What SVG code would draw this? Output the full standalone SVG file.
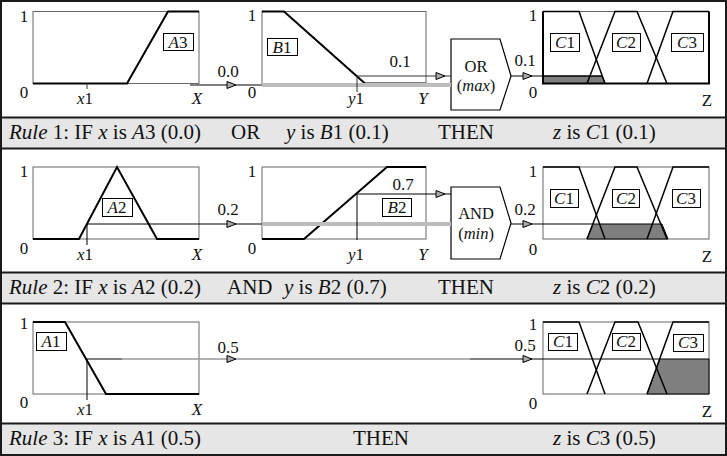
<svg xmlns="http://www.w3.org/2000/svg" xmlns:xlink="http://www.w3.org/1999/xlink" width="727" height="456" viewBox="0 0 727 456">
<style>
text{font-family:"Liberation Serif","Times New Roman",serif;fill:#111}
.t{font-size:17px}
.s{font-size:17px}
.o{font-size:16.5px}
.cap{font-size:21px}
.i{font-style:italic}
.m{text-anchor:middle}
.bar{fill:#e6e6e6}
.sep{stroke:#1a1a1a;stroke-width:2}
.ax{fill:#fff;stroke:#666;stroke-width:1}
.axk{fill:none;stroke:#000;stroke-width:2}
.mf{fill:none;stroke:#000;stroke-width:2}
.leg{fill:none;stroke:#000;stroke-width:1.5}
.ln{stroke:#000;stroke-width:1;fill:none}
.tk{stroke:#333;stroke-width:1;fill:none}
.gb{stroke:#bdbdbd;stroke-width:4;fill:none}
.sh{fill:#7f7f7f;stroke:#000;stroke-width:1}
.lb{fill:#fff;stroke:#000;stroke-width:1}
.ah{fill:#aaa;stroke:#000;stroke-width:1}
.op{fill:#fff;stroke:#000;stroke-width:1.2}
</style>
<defs>
<path id="ah" class="ah" d="M-9,-3.5 L0,0 L-9,3.5 Z"/>
</defs>
<rect x="0" y="0" width="727" height="456" fill="#fff"/>

<g id="captions">
<rect class="bar" x="1" y="118" width="725" height="30"/>
<rect class="bar" x="1" y="273" width="725" height="30"/>
<rect class="bar" x="1" y="424" width="725" height="31"/>
<line class="sep" x1="1" y1="117.5" x2="726" y2="117.5"/>
<line class="sep" x1="1" y1="148.5" x2="726" y2="148.5"/>
<line class="sep" x1="1" y1="272.5" x2="726" y2="272.5"/>
<line class="sep" x1="1" y1="303.5" x2="726" y2="303.5"/>
<line class="sep" x1="1" y1="423.5" x2="726" y2="423.5"/>
</g>

<g id="caption1">
<text class="cap" x="9" y="139"><tspan class="i">Rule</tspan> 1: IF <tspan class="i">x</tspan> is <tspan class="i">A</tspan>3 (0.0)</text>
<text class="cap" x="231" y="139">OR</text>
<text class="cap" x="286" y="139"><tspan class="i">y</tspan> is <tspan class="i">B</tspan>1 (0.1)</text>
<text class="cap" x="438" y="139">THEN</text>
<text class="cap" x="553" y="139"><tspan class="i">z</tspan> is <tspan class="i">C</tspan>1 (0.1)</text>
</g>
<g id="caption2">
<text class="cap" x="9" y="294"><tspan class="i">Rule</tspan> 2: IF <tspan class="i">x</tspan> is <tspan class="i">A</tspan>2 (0.2)</text>
<text class="cap" x="227" y="294">AND</text>
<text class="cap" x="284" y="294"><tspan class="i">y</tspan> is <tspan class="i">B</tspan>2 (0.7)</text>
<text class="cap" x="438" y="294">THEN</text>
<text class="cap" x="553" y="294"><tspan class="i">z</tspan> is <tspan class="i">C</tspan>2 (0.2)</text>
</g>
<g id="caption3">
<text class="cap" x="9" y="445"><tspan class="i">Rule</tspan> 3: IF <tspan class="i">x</tspan> is <tspan class="i">A</tspan>1 (0.5)</text>
<text class="cap" x="353" y="445">THEN</text>
<text class="cap" x="553" y="445"><tspan class="i">z</tspan> is <tspan class="i">C</tspan>3 (0.5)</text>
</g>

<g id="r1-A3">
<rect class="ax" x="33" y="11.5" width="166" height="72"/>
<polyline class="mf" points="33,83.5 127,83.5 168,11.5 199,11.5"/>
<line class="tk" x1="87" y1="83.5" x2="87" y2="89"/>
<rect class="lb" x="163.5" y="33.5" width="30" height="17"/>
<text class="t m" x="178" y="48"><tspan class="i">A</tspan>3</text>
<text class="t m" x="24" y="22">1</text>
<text class="t m" x="24" y="98">0</text>
<text class="t m" x="85" y="104"><tspan class="i">x</tspan>1</text>
<text class="t m i" x="197" y="104">X</text>
</g>
<g id="r1-B1">
<rect class="ax" x="262" y="11.5" width="164" height="72"/>
<polyline class="mf" points="262,11.5 284,11.5 365,83.5 426,83.5"/>
<rect class="lb" x="267.5" y="38.5" width="30" height="17"/>
<text class="t m" x="282" y="53"><tspan class="i">B</tspan>1</text>
<text class="t m" x="252" y="21">1</text>
<text class="t m" x="252" y="98">0</text>
<text class="t m" x="356" y="104"><tspan class="i">y</tspan>1</text>
<text class="t m i" x="423" y="104">Y</text>
</g>
<g id="r1-OR">
<polygon class="op" points="451,39 500,39 511,76 500,110 451,110"/>
<text class="o m" x="476" y="72">OR</text>
<text class="o m" x="476" y="91">(<tspan class="i">max</tspan>)</text>
</g>
<g id="r1-C">
<rect class="ax" x="543" y="11.5" width="166" height="72"/>
<polygon class="sh" points="543,76 602,76 605,83.5 543,83.5"/>
<polyline class="leg" points="543,11.5 579,11.5 605,83.5"/>
<polyline class="leg" points="587,83.5 615,11.5 637,11.5 667,83.5"/>
<polyline class="leg" points="647,83.5 673,11.5 709,11.5"/>
<polyline class="axk" points="543,11.5 543,83.5 709,83.5 709,11.5"/>
<rect class="lb" x="550.5" y="33.5" width="29" height="18"/>
<text class="t m" x="565" y="48"><tspan class="i">C</tspan>1</text>
<rect class="lb" x="612.5" y="33.5" width="28" height="18"/>
<text class="t m" x="626" y="48"><tspan class="i">C</tspan>2</text>
<rect class="lb" x="671.5" y="33.5" width="32" height="18" stroke-width="1.6"/>
<text class="t m" x="687" y="48"><tspan class="i">C</tspan>3</text>
<text class="t m" x="533" y="21">1</text>
<text class="t m" x="533" y="98">0</text>
<text class="t m" x="707" y="106">Z</text>
</g>

<g id="r2-A2">
<rect class="ax" x="33" y="167" width="166" height="72"/>
<polyline class="mf" points="33,239 79,239 117,167 157,239 199,239"/>
<rect class="lb" x="102.5" y="198.5" width="30" height="18"/>
<text class="t m" x="117" y="213"><tspan class="i">A</tspan>2</text>
<text class="t m" x="24" y="177">1</text>
<text class="t m" x="24" y="254">0</text>
<text class="t m" x="85" y="260"><tspan class="i">x</tspan>1</text>
<text class="t m i" x="197" y="260">X</text>
</g>
<g id="r2-B2">
<rect class="ax" x="262" y="167" width="164" height="72"/>
<polyline class="mf" points="262,239 304,239 387,167 426,167"/>
<rect class="lb" x="382.5" y="198.5" width="29" height="18"/>
<text class="t m" x="397" y="213"><tspan class="i">B</tspan>2</text>
<text class="t m" x="252" y="177">1</text>
<text class="t m" x="252" y="254">0</text>
<text class="t m" x="356" y="260"><tspan class="i">y</tspan>1</text>
<text class="t m i" x="423" y="260">Y</text>
</g>
<g id="r2-AND">
<polygon class="op" points="451,187 500,187 511,223 500,259 451,259"/>
<text class="o m" x="476" y="219">AND</text>
<text class="o m" x="476" y="238.5">(<tspan class="i">min</tspan>)</text>
</g>
<g id="r2-C">
<rect class="ax" x="543" y="167" width="166" height="72"/>
<polygon class="sh" points="587,239 668,239 662,224 593,224"/>
<polyline class="leg" points="543,167 579,167 605,239"/>
<polyline class="leg" points="587,239 615,167 637,167 667,239"/>
<polyline class="leg" points="647,239 673,167 709,167"/>
<rect class="lb" x="550.5" y="189.5" width="28" height="18"/>
<text class="t m" x="564" y="204"><tspan class="i">C</tspan>1</text>
<rect class="lb" x="612.5" y="189.5" width="27" height="18"/>
<text class="t m" x="626" y="204"><tspan class="i">C</tspan>2</text>
<rect class="lb" x="672.5" y="189.5" width="28" height="18"/>
<text class="t m" x="686" y="204"><tspan class="i">C</tspan>3</text>
<text class="t m" x="533" y="177">1</text>
<text class="t m" x="533" y="255">0</text>
<text class="t m" x="707" y="262">Z</text>
</g>

<g id="r3-A1">
<rect class="ax" x="33" y="322" width="166" height="72"/>
<polyline class="mf" points="33,322 65,322 106,394 199,394"/>
<rect class="lb" x="36.5" y="332.5" width="30" height="18"/>
<text class="t m" x="51" y="347"><tspan class="i">A</tspan>1</text>
<text class="t m" x="24" y="329">1</text>
<text class="t m" x="24" y="408">0</text>
<text class="t m" x="85" y="415"><tspan class="i">x</tspan>1</text>
<text class="t m i" x="197" y="415">X</text>
</g>
<g id="r3-C">
<rect class="ax" x="543" y="322" width="166" height="72"/>
<polygon class="sh" points="647,394 660,359 709,359 709,394"/>
<polyline class="leg" points="543,322 579,322 605,394"/>
<polyline class="leg" points="587,394 615,322 638,322 667,394"/>
<polyline class="leg" points="647,394 673,322 709,322"/>
<rect class="lb" x="548.5" y="333.5" width="29" height="17"/>
<text class="t m" x="563" y="347"><tspan class="i">C</tspan>1</text>
<rect class="lb" x="612.5" y="333.5" width="28" height="17"/>
<text class="t m" x="626" y="347"><tspan class="i">C</tspan>2</text>
<rect class="lb" x="673.5" y="334.5" width="30" height="17"/>
<text class="t m" x="688" y="348"><tspan class="i">C</tspan>3</text>
<text class="t m" x="533" y="330">1</text>
<text class="t m" x="533" y="409">0</text>
<text class="t m" x="707" y="417">Z</text>
</g>

<g id="connectors">
<line class="ln" x1="190" y1="85" x2="262" y2="85"/>
<line class="gb" x1="262" y1="85" x2="451" y2="85"/>
<use xlink:href="#ah" x="236" y="85"/>
<text class="s m" x="228" y="77">0.0</text>
<polyline class="tk" points="357,92 357,76 451,76"/>
<use xlink:href="#ah" x="445" y="76"/>
<text class="s m" x="400" y="67">0.1</text>
<line class="ln" x1="511" y1="76" x2="602" y2="76"/>
<use xlink:href="#ah" x="532" y="76"/>
<text class="s m" x="525" y="66">0.1</text>
<polyline class="ln" points="87,245 87,224 262,224"/>
<line class="gb" x1="262" y1="224" x2="451" y2="224"/>
<use xlink:href="#ah" x="236" y="224"/>
<text class="s m" x="228" y="215">0.2</text>
<polyline class="ln" points="357,240 357,194 451,194"/>
<use xlink:href="#ah" x="445" y="194"/>
<text class="s m" x="403" y="190">0.7</text>
<line class="ln" x1="511" y1="224" x2="593" y2="224"/>
<use xlink:href="#ah" x="532" y="224"/>
<text class="s m" x="525" y="215">0.2</text>
<polyline class="ln" points="87,400 87,359 122,359"/>
<line stroke="#999" stroke-width="1.5" x1="122" y1="359" x2="470" y2="359"/>
<line class="ln" x1="470" y1="359" x2="660" y2="359"/>
<use xlink:href="#ah" x="236" y="359"/>
<text class="s m" x="228" y="353">0.5</text>
<use xlink:href="#ah" x="532" y="359"/>
<text class="s m" x="525" y="351">0.5</text>
</g>

<rect x="1" y="1" width="725" height="454" fill="none" stroke="#1a1a1a" stroke-width="2"/>
</svg>
